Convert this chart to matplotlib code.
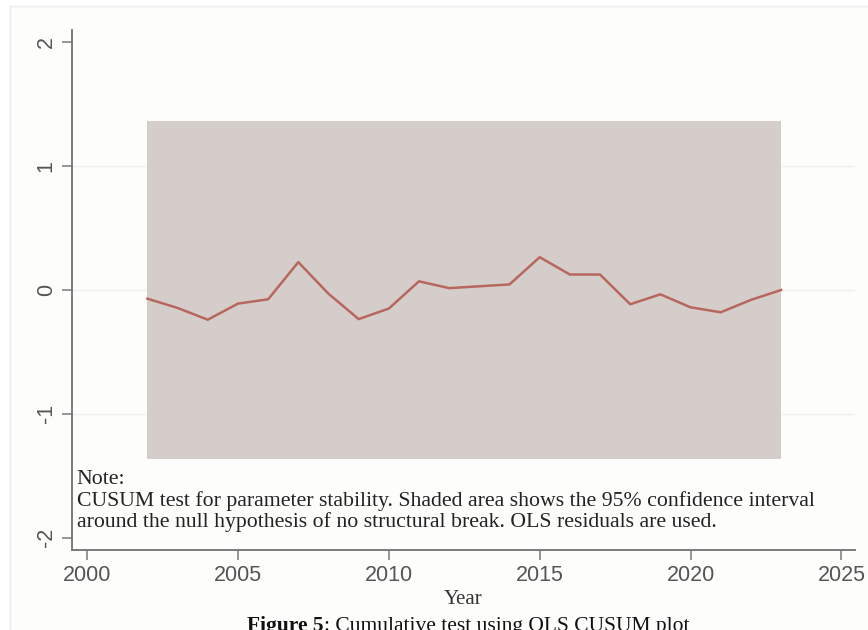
import numpy as np
import matplotlib
matplotlib.use('Agg')
import matplotlib.pyplot as plt
from matplotlib.patches import Rectangle

plt.rcParams['axes.unicode_minus'] = False

# CUSUM of OLS residuals by year
years = list(range(2002, 2024))
cusum = [-0.07, -0.145, -0.24, -0.11, -0.075, 0.225, -0.03, -0.235, -0.15, 0.07, 0.015,
         0.03, 0.045, 0.265, 0.125, 0.125, -0.115, -0.035, -0.14, -0.18, -0.08, 0.0]
band_upper = 1.363
band_lower = -1.363

x_ticks = [2000, 2005, 2010, 2015, 2020, 2025]
y_ticks = [-2, -1, 0, 1, 2]

note_text = ("Note:\n"
             "CUSUM test for parameter stability. Shaded area shows the 95% confidence interval\n"
             "around the null hypothesis of no structural break. OLS residuals are used.")

fig = plt.figure(figsize=(8.68, 6.3), dpi=100)
fig.patch.set_facecolor('white')

# faint frame of the graph region (runs off the right and bottom edges)
fig.add_artist(Rectangle((10 / 868, -0.1), 1.0, 1.1 - 6 / 630, transform=fig.transFigure,
                         facecolor='#fdfdfc', edgecolor='#ececec', lw=1, zorder=-10))

ax = fig.add_axes([72 / 868, 1 - 550 / 630, (855 - 72) / 868, (550 - 30) / 630])
ax.set_facecolor('none')

ax.fill_between(years, band_lower, band_upper, color='#d5cdc9', lw=0, zorder=1)
ax.plot(years, cusum, color='#b8675f', lw=1.8, zorder=3)

for y in [-1, 0, 1]:
    ax.axhline(y, color='#efefef', lw=1, zorder=0)

ax.set_xlim(1999.5, 2025.45)
ax.set_ylim(-2.1, 2.1)
ax.set_xticks(x_ticks)
ax.set_yticks(y_ticks)

for side in ['top', 'right']:
    ax.spines[side].set_visible(False)
for side in ['left', 'bottom']:
    ax.spines[side].set_color('#7a7a7a')
    ax.spines[side].set_linewidth(1.4)

ax.tick_params(axis='both', direction='out', length=7, width=1.1, color='#7a7a7a',
               labelcolor='#555555', labelsize=15.5, pad=4)
for lab in ax.get_xticklabels() + ax.get_yticklabels():
    lab.set_family('Liberation Sans')
for lab in ax.get_yticklabels():
    lab.set_rotation(90)
    lab.set_va('center')

ax.set_xlabel('Year', family='Liberation Serif', fontsize=15, color='#333333', labelpad=3)

ax.text(0.006, 0.153, note_text, transform=ax.transAxes, family='Liberation Serif',
        fontsize=15.7, color='#222222', va='top', ha='left', linespacing=1.08)

# caption: bold figure number followed by regular text
cap1 = fig.text(247 / 868, 1 - 616 / 630, 'Figure 5', family='Liberation Serif',
                fontweight='bold', fontsize=15.5, color='#111111', ha='left', va='top')
fig.add_artist(plt.Annotation(': Cumulative test using OLS CUSUM plot', xy=(1, 0),
                              xycoords=cap1, va='bottom', ha='left',
                              family='Liberation Serif', fontsize=15.5, color='#111111'))

fig.savefig('out.png', dpi=100)
